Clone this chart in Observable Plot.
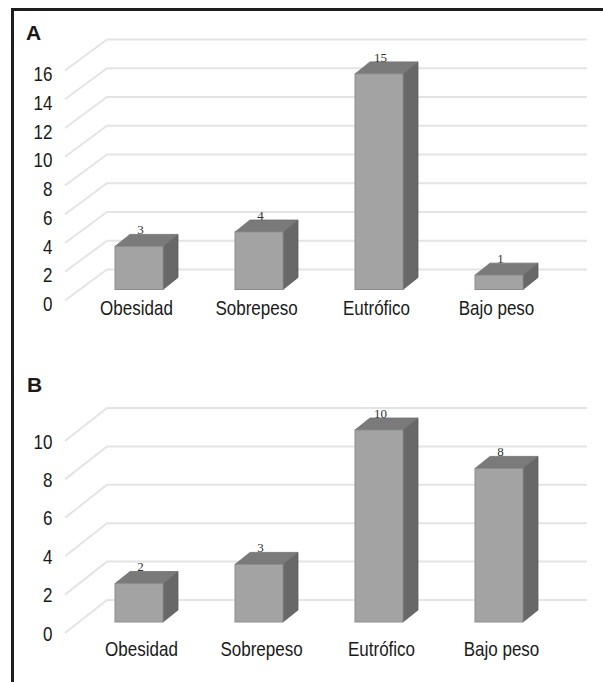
<!DOCTYPE html>
<html>
<head>
<meta charset="utf-8">
<script src="https://cdn.jsdelivr.net/npm/d3@7"></script>
<script src="https://cdn.jsdelivr.net/npm/@observablehq/plot@0.6"></script>
<style>
  body { margin: 0; background: #fff; }
  #wrap { position: relative; width: 603px; height: 682px; overflow: hidden; background: #fff; }
  #frame { position: absolute; left: 11px; top: 8px; width: 600px; height: 680px;
           border-top: 3px solid #1e1e1e; border-left: 3px solid #1e1e1e; }
  .lab { position: absolute; font: bold 21px "Liberation Sans", Arial, sans-serif; line-height: 1; color: #1a1a1a; }
  .panel { position: absolute; left: 0; }
</style>
</head>
<body>
<div id="wrap">
  <div id="frame"></div>
  <div class="lab" style="left:26px;top:22px">A</div>
  <div class="lab" style="left:27px;top:374px">B</div>
  <div id="pA" class="panel" style="top:0px"></div>
  <div id="pB" class="panel" style="top:340px"></div>
</div>
<script>
// ---- data ----
const categories = ["Obesidad", "Sobrepeso", "Eutrófico", "Bajo peso"];
const valuesA = [3, 4, 15, 1];
const valuesB = [2, 3, 10, 8];
const ticksA = [0, 2, 4, 6, 8, 10, 12, 14, 16];
const ticksB = [0, 2, 4, 6, 8, 10];

const FONT = '"Liberation Sans", Arial, sans-serif';
const BOX = {dx: 15, dy: -12};

function gridRender(ticks, front, back) {
  return (index, scales, values, dims) => {
    const g = d3.create("svg:g")
      .attr("fill", "none").attr("stroke", "#e4e4e4").attr("stroke-width", 2);
    const x0 = dims.marginLeft, x1 = dims.width - dims.marginRight;
    for (const i of index) {
      const y = scales.y(ticks[i]);
      g.append("path").attr("d",
        `M${x0 - 14},${y + front}L${x0 + 28},${y + back}L${x1 + 28},${y + back}`);
    }
    return g.node();
  };
}

function boxRender(data) {
  return (index, scales) => {
    const g = d3.create("svg:g");
    const b = scales.x.bandwidth;
    const bw = typeof b === "function" ? b() : b;
    for (const i of index) {
      const d = data[i];
      const x0 = scales.x(d.cat), x1 = x0 + bw;
      const yb = scales.y(0), yt = scales.y(d.value);
      const {dx, dy} = BOX;
      g.append("path").attr("fill", "#686868").attr("stroke", "#5e5e5e").attr("stroke-width", 0.8)
        .attr("d", `M${x1},${yb}L${x1},${yt}L${x1 + dx},${yt + dy}L${x1 + dx},${yb + dy}Z`);
      g.append("path").attr("fill", "#7a7a7a").attr("stroke", "#6e6e6e").attr("stroke-width", 0.8)
        .attr("d", `M${x0},${yt}L${x1},${yt}L${x1 + dx},${yt + dy}L${x0 + dx},${yt + dy}Z`);
      g.append("rect").attr("fill", "#a3a3a3").attr("stroke", "#8d8d8d").attr("stroke-width", 1)
        .attr("x", x0).attr("y", yt).attr("width", bw).attr("height", yb - yt);
    }
    return g.node();
  };
}

// narrow the sans labels horizontally (reference uses a condensed face)
function condense(svg) {
  d3.select(svg).selectAll("text").each(function () {
    const grp = this.closest("g");
    const fam = (grp && grp.getAttribute("font-family")) || "";
    if (fam.includes("Serif")) return;
    const t = this.getAttribute("transform") || "";
    const x = parseFloat(this.getAttribute("x")) || 0;
    const y = parseFloat(this.getAttribute("y")) || 0;
    this.setAttribute("transform", `${t} translate(${x},${y}) scale(0.83,1) translate(${-x},${-y})`);
  });
  return svg;
}

function panel({values, ticks, domain, height, marginTop, marginBottom, front, back, catDy, catDx, tickDy}) {
  const data = categories.map((c, i) => ({cat: c, value: values[i]}));
  return condense(Plot.plot({
    width: 603,
    height,
    marginLeft: 79,
    marginRight: 44,
    marginTop,
    marginBottom,
    x: {type: "band", domain: categories, paddingInner: 0.6, paddingOuter: 0.3, axis: null},
    y: {domain, axis: null},
    style: {fontFamily: FONT, fontSize: "20.5px", color: "#1a1a1a", background: "transparent", overflow: "visible"},
    marks: [
      Plot.ruleY(ticks, {y: d => d, render: gridRender(ticks, front, back)}),
      Plot.barY(data, {x: "cat", y: "value", render: boxRender(data)}),
      Plot.text(data, {x: "cat", y: "value", text: d => String(d.value), dy: -17, dx: 1,
        fontFamily: '"Liberation Serif", serif', fontSize: 13, fill: "#333333"}),
      Plot.text(data, {x: "cat", text: "cat", frameAnchor: "bottom", dy: catDy, dx: catDx, fontSize: 20.5}),
      Plot.text(ticks, {y: d => d, text: d => String(d), frameAnchor: "left", textAnchor: "end",
        dx: -27, dy: tickDy, fontSize: 20.5})
    ]
  }));
}

document.getElementById("pA").append(panel({
  values: valuesA, ticks: ticksA, domain: [0, 16], height: 340, marginTop: 59.5, marginBottom: 50.5,
  front: 11, back: -20, catDy: 24.5, catDx: -3, tickDy: 14.5
}));
document.getElementById("pB").append(panel({
  values: valuesB, ticks: ticksB, domain: [0, 10], height: 342, marginTop: 90, marginBottom: 60,
  front: 11, back: -22, catDy: 33, catDx: 2, tickDy: 11.5
}));
</script>
</body>
</html>
